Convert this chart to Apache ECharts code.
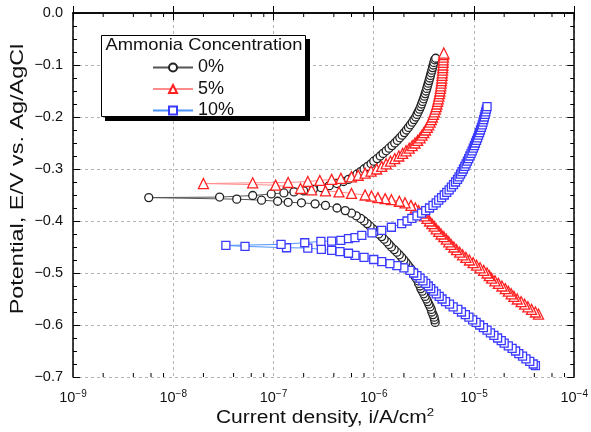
<!DOCTYPE html>
<html>
<head>
<meta charset="utf-8">
<script src="https://cdn.jsdelivr.net/npm/echarts@6/dist/echarts.min.js"></script>
<style>
  html, body { margin: 0; padding: 0; background: #fff; }
  #main { width: 591px; height: 432px; }
</style>
</head>
<body>
<div id="main"></div>
<script>
// series names (legend)
const seriesNames = ['0%', '5%', '10%']

// [current density (A/cm2), potential (V)], scan order
// 0% : cathodic end -> Ecorr
const cathodic0 = [
  [4.1e-6, -0.595], [4.05e-6, -0.590], [4.0e-6, -0.585], [3.9e-6, -0.580], [3.8e-6, -0.575],
  [3.75e-6, -0.570], [3.65e-6, -0.565], [3.55e-6, -0.560], [3.45e-6, -0.555], [3.35e-6, -0.550],
  [3.25e-6, -0.545], [3.15e-6, -0.540], [3.05e-6, -0.535], [2.95e-6, -0.530], [2.9e-6, -0.525],
  [2.8e-6, -0.520], [2.75e-6, -0.515], [2.65e-6, -0.510], [2.55e-6, -0.505], [2.5e-6, -0.500],
  [2.4e-6, -0.495], [2.3e-6, -0.490], [2.2e-6, -0.485], [2.1e-6, -0.480], [2.0e-6, -0.475],
  [1.9e-6, -0.470], [1.8e-6, -0.465], [1.7e-6, -0.460], [1.6e-6, -0.455], [1.5e-6, -0.450],
  [1.42e-6, -0.445], [1.35e-6, -0.440], [1.27e-6, -0.435], [1.2e-6, -0.430], [1.12e-6, -0.425],
  [1.05e-6, -0.420], [9.8e-7, -0.415], [9.2e-7, -0.410], [8.6e-7, -0.405], [8.0e-7, -0.400],
  [7.4e-7, -0.395], [6.7e-7, -0.390], [6.0e-7, -0.385], [5.2e-7, -0.380], [4.3e-7, -0.375],
  [3.3e-7, -0.370], [2.6e-7, -0.367], [1.9e-7, -0.365], [1.4e-7, -0.364], [1.1e-7, -0.362],
  [7.6e-8, -0.360], [4.3e-8, -0.358], [5.7e-9, -0.355]
]
// 0% : Ecorr -> anodic end
const anodic0 = [
  [2.9e-8, -0.354], [6.2e-8, -0.351], [9.5e-8, -0.348], [1.27e-7, -0.346], [1.6e-7, -0.344],
  [2.0e-7, -0.342], [2.5e-7, -0.339], [3.0e-7, -0.336], [3.6e-7, -0.332], [4.3e-7, -0.328],
  [5.0e-7, -0.324], [5.6e-7, -0.320], [6.2e-7, -0.315], [6.8e-7, -0.310], [7.4e-7, -0.305],
  [8.0e-7, -0.300], [8.7e-7, -0.295], [9.4e-7, -0.290], [1.0e-6, -0.285], [1.08e-6, -0.280],
  [1.16e-6, -0.275], [1.24e-6, -0.270], [1.33e-6, -0.265], [1.42e-6, -0.260], [1.52e-6, -0.255],
  [1.62e-6, -0.250], [1.72e-6, -0.245], [1.82e-6, -0.240], [1.92e-6, -0.235], [2.02e-6, -0.230],
  [2.12e-6, -0.225], [2.22e-6, -0.220], [2.32e-6, -0.215], [2.42e-6, -0.210], [2.52e-6, -0.205],
  [2.62e-6, -0.200], [2.7e-6, -0.195], [2.78e-6, -0.190], [2.86e-6, -0.185], [2.94e-6, -0.180],
  [3.0e-6, -0.175], [3.07e-6, -0.170], [3.14e-6, -0.165], [3.2e-6, -0.160], [3.26e-6, -0.155],
  [3.32e-6, -0.150], [3.38e-6, -0.145], [3.44e-6, -0.140], [3.5e-6, -0.135], [3.56e-6, -0.130],
  [3.62e-6, -0.125], [3.68e-6, -0.120], [3.74e-6, -0.115], [3.8e-6, -0.110], [3.86e-6, -0.105],
  [3.92e-6, -0.100], [3.98e-6, -0.095], [4.05e-6, -0.090], [4.15e-6, -0.087]
]
// 5%
const cathodic5 = [
  [4.4e-5, -0.579], [4.1e-5, -0.575], [3.75e-5, -0.570], [3.45e-5, -0.565], [3.2e-5, -0.560],
  [2.95e-5, -0.555], [2.7e-5, -0.550], [2.5e-5, -0.545], [2.35e-5, -0.540], [2.2e-5, -0.535],
  [2.05e-5, -0.530], [1.9e-5, -0.525], [1.75e-5, -0.520], [1.62e-5, -0.515], [1.5e-5, -0.510],
  [1.42e-5, -0.505], [1.35e-5, -0.500], [1.25e-5, -0.495], [1.15e-5, -0.490], [1.06e-5, -0.485],
  [9.8e-6, -0.480], [9.0e-6, -0.475], [8.3e-6, -0.470], [7.7e-6, -0.465], [7.2e-6, -0.460],
  [6.7e-6, -0.455], [6.3e-6, -0.450], [5.9e-6, -0.445], [5.6e-6, -0.440], [5.3e-6, -0.435],
  [5.0e-6, -0.430], [4.7e-6, -0.425], [4.45e-6, -0.420], [4.2e-6, -0.415], [4.0e-6, -0.410],
  [3.8e-6, -0.405], [3.6e-6, -0.400], [3.4e-6, -0.395], [3.2e-6, -0.390], [3.0e-6, -0.385],
  [2.8e-6, -0.380], [2.6e-6, -0.375], [2.35e-6, -0.370], [2.05e-6, -0.365], [1.8e-6, -0.362],
  [1.5e-6, -0.359], [1.3e-6, -0.357], [1.1e-6, -0.355], [9.5e-7, -0.352], [8.2e-7, -0.350],
  [6.0e-7, -0.347], [4.5e-7, -0.344], [3.3e-7, -0.342], [2.4e-7, -0.340], [1.86e-7, -0.3375],
  [1.05e-7, -0.331], [2.0e-8, -0.328]
]
const anodic5 = [
  [6.2e-8, -0.3266], [1.4e-7, -0.326], [2.2e-7, -0.324], [2.9e-7, -0.322], [3.8e-7, -0.320],
  [4.7e-7, -0.318], [6.0e-7, -0.315], [7.0e-7, -0.312], [8.2e-7, -0.308], [9.4e-7, -0.304],
  [1.07e-6, -0.300], [1.2e-6, -0.295], [1.33e-6, -0.290], [1.47e-6, -0.285], [1.62e-6, -0.280],
  [1.78e-6, -0.275], [1.94e-6, -0.270], [2.1e-6, -0.265], [2.26e-6, -0.260], [2.42e-6, -0.255],
  [2.58e-6, -0.250], [2.74e-6, -0.245], [2.9e-6, -0.240], [3.03e-6, -0.235], [3.16e-6, -0.230],
  [3.29e-6, -0.225], [3.42e-6, -0.220], [3.54e-6, -0.215], [3.65e-6, -0.210], [3.75e-6, -0.205],
  [3.85e-6, -0.200], [3.94e-6, -0.195], [4.03e-6, -0.190], [4.12e-6, -0.185], [4.2e-6, -0.180],
  [4.27e-6, -0.175], [4.34e-6, -0.170], [4.4e-6, -0.165], [4.46e-6, -0.160], [4.52e-6, -0.155],
  [4.57e-6, -0.150], [4.62e-6, -0.145], [4.66e-6, -0.140], [4.7e-6, -0.135], [4.74e-6, -0.130],
  [4.77e-6, -0.125], [4.8e-6, -0.120], [4.83e-6, -0.115], [4.86e-6, -0.110], [4.88e-6, -0.105],
  [4.9e-6, -0.100], [4.92e-6, -0.095], [4.94e-6, -0.090], [4.96e-6, -0.085], [4.98e-6, -0.080],
  [5.0e-6, -0.077]
]
// 10%
const cathodic10 = [
  [4.1e-5, -0.678], [3.9e-5, -0.675], [3.6e-5, -0.670], [3.3e-5, -0.665], [3.05e-5, -0.660],
  [2.8e-5, -0.655], [2.6e-5, -0.650], [2.4e-5, -0.645], [2.2e-5, -0.640], [2.0e-5, -0.635],
  [1.87e-5, -0.630], [1.72e-5, -0.625], [1.58e-5, -0.620], [1.46e-5, -0.615], [1.35e-5, -0.610],
  [1.24e-5, -0.605], [1.14e-5, -0.600], [1.05e-5, -0.595], [9.7e-6, -0.590], [8.9e-6, -0.585],
  [8.2e-6, -0.580], [7.5e-6, -0.575], [6.9e-6, -0.570], [6.2e-6, -0.565], [5.7e-6, -0.560],
  [5.2e-6, -0.555], [4.8e-6, -0.550], [4.5e-6, -0.545], [4.2e-6, -0.540], [3.95e-6, -0.535],
  [3.7e-6, -0.530], [3.5e-6, -0.525], [3.3e-6, -0.520], [3.1e-6, -0.515], [2.9e-6, -0.510],
  [2.7e-6, -0.505], [2.5e-6, -0.500], [2.3e-6, -0.495], [2.0e-6, -0.490], [1.7e-6, -0.486],
  [1.45e-6, -0.482], [1.2e-6, -0.478], [1.0e-6, -0.474], [8.0e-7, -0.470], [6.5e-7, -0.466],
  [5.6e-7, -0.462], [4.6e-7, -0.459], [3.8e-7, -0.4566], [3.0e-7, -0.4546], [2.2e-7, -0.452],
  [1.35e-7, -0.4514], [5.2e-8, -0.4488], [3.35e-8, -0.447]
]
const anodic10 = [
  [1.19e-7, -0.445], [2.05e-7, -0.4418], [2.97e-7, -0.439], [3.8e-7, -0.4386], [4.7e-7, -0.4373],
  [5.6e-7, -0.434], [6.5e-7, -0.432], [7.6e-7, -0.4276], [9.6e-7, -0.423], [1.2e-6, -0.418],
  [1.5e-6, -0.412], [1.9e-6, -0.405], [2.15e-6, -0.400], [2.4e-6, -0.395], [2.7e-6, -0.390],
  [3.0e-6, -0.385], [3.3e-6, -0.380], [3.6e-6, -0.375], [3.9e-6, -0.370], [4.2e-6, -0.365],
  [4.45e-6, -0.360], [4.75e-6, -0.355], [5.05e-6, -0.350], [5.35e-6, -0.345], [5.65e-6, -0.340],
  [5.95e-6, -0.335], [6.25e-6, -0.330], [6.55e-6, -0.325], [6.85e-6, -0.320], [7.1e-6, -0.315],
  [7.35e-6, -0.310], [7.6e-6, -0.305], [7.85e-6, -0.300], [8.1e-6, -0.295], [8.35e-6, -0.290],
  [8.6e-6, -0.285], [8.85e-6, -0.280], [9.1e-6, -0.275], [9.35e-6, -0.270], [9.6e-6, -0.265],
  [9.85e-6, -0.260], [1.01e-5, -0.255], [1.035e-5, -0.250], [1.06e-5, -0.245], [1.085e-5, -0.240],
  [1.11e-5, -0.235], [1.135e-5, -0.230], [1.16e-5, -0.225], [1.185e-5, -0.220], [1.21e-5, -0.215],
  [1.23e-5, -0.210], [1.25e-5, -0.205], [1.27e-5, -0.200], [1.29e-5, -0.195], [1.31e-5, -0.190],
  [1.33e-5, -0.185], [1.35e-5, -0.180]
]

// minor log ticks at 2,4,6,8 of each decade
const minorX = []
for (let d = -9; d < -4; d++) {
  [2, 4, 6, 8].forEach(m => minorX.push([m * Math.pow(10, d), -0.7]))
}

const FONT = '"Liberation Sans", Arial, sans-serif'
const minus = s => String(s).replace('-', '\u2212')

const chart = echarts.init(document.getElementById('main'))

const logAxis = {
  type: 'log',
  logBase: 10,
  min: 1e-9,
  max: 1e-4,
  splitNumber: 5
}
const valAxis = {
  type: 'value',
  min: -0.7,
  max: 0,
  interval: 0.1
}

function curve (name, data, symbol, size, stroke, line) {
  return {
    name: name,
    type: 'line',
    data: data,
    symbol: symbol,
    symbolSize: size,
    showAllSymbol: true,
    itemStyle: { color: '#fff', borderColor: stroke, borderWidth: 1.3 },
    lineStyle: { color: line, width: 1 },
    emphasis: { disabled: true }
  }
}

const option = {
  animation: false,
  textStyle: { fontFamily: FONT },
  grid: { left: 73, right: 14, top: 13, bottom: 55 },
  xAxis: [
    Object.assign({}, logAxis, {
      position: 'bottom',
      axisLine: { lineStyle: { color: '#000', width: 1.5 } },
      axisTick: { inside: true, length: 7, lineStyle: { color: '#000' } },
      splitLine: { show: true, lineStyle: { color: '#b5b5b5', type: [3, 3], width: 1 } },
      axisLabel: {
        margin: 12,
        color: '#111',
        showMinLabel: true,
        showMaxLabel: true,
        formatter: v => '{b|10}{s|' + minus(Math.round(Math.log10(v))) + '}',
        rich: {
          b: { fontSize: 14.5, lineHeight: 18, fontFamily: FONT, color: '#111' },
          s: { fontSize: 10, lineHeight: 10, verticalAlign: 'top', fontFamily: FONT, color: '#111' }
        }
      }
    }),
    Object.assign({}, logAxis, {
      position: 'top',
      axisLine: { lineStyle: { color: '#000', width: 1.5 } },
      axisTick: { inside: true, length: 7, lineStyle: { color: '#000' } },
      axisLabel: { show: false },
      splitLine: { show: false }
    })
  ],
  yAxis: [
    Object.assign({}, valAxis, {
      position: 'left',
      axisLine: { show: true, lineStyle: { color: '#000', width: 1.5 } },
      axisTick: { show: true, inside: true, length: 7, lineStyle: { color: '#000' } },
      minorTick: { show: true, splitNumber: 4, length: 4, lineStyle: { color: '#000' } },
      splitLine: { show: true, lineStyle: { color: '#b5b5b5', type: [3, 3], width: 1 } },
      axisLabel: {
        margin: 10,
        fontSize: 14.5,
        color: '#111',
        formatter: v => minus(v.toFixed(1)).replace('\u22120.0', '0.0')
      }
    }),
    Object.assign({}, valAxis, {
      position: 'right',
      axisLine: { show: true, lineStyle: { color: '#000', width: 1.5 } },
      axisTick: { show: true, inside: true, length: 7, lineStyle: { color: '#000' } },
      minorTick: { show: true, splitNumber: 4, length: 4, lineStyle: { color: '#000' } },
      splitLine: { show: false },
      axisLabel: { show: false }
    })
  ],
  legend: {
    data: seriesNames,
    orient: 'vertical',
    left: 152,
    top: 58.5,
    padding: 0,
    itemWidth: 40,
    itemHeight: 10,
    itemGap: 3.5,
    z: 12,
    selectedMode: false,
    textStyle: { fontSize: 18, lineHeight: 17, color: '#111', fontFamily: FONT }
  },
  graphic: [
    // legend frame with its hard drop shadow
    {
      type: 'rect',
      z: 10,
      shape: { x: 105, y: 39, width: 205, height: 82 },
      style: { fill: '#000' }
    },
    {
      type: 'rect',
      z: 11,
      shape: { x: 101.5, y: 35.5, width: 204, height: 81 },
      style: { fill: '#fff', stroke: '#000', lineWidth: 1 }
    },
    {
      type: 'text',
      z: 12,
      x: 204,
      y: 45,
      scaleX: 1.08,
      style: {
        text: 'Ammonia Concentration',
        fontSize: 17,
        fontFamily: FONT,
        fill: '#111',
        align: 'center',
        verticalAlign: 'middle'
      }
    },
    // axis titles
    {
      type: 'text',
      x: 18,
      y: 179,
      rotation: Math.PI / 2,
      scaleX: 1.3,
      style: {
        text: 'Potential, E/V vs. Ag/AgCl',
        fontSize: 18,
        fontFamily: FONT,
        fill: '#111',
        align: 'center',
        verticalAlign: 'middle'
      }
    },
    {
      type: 'text',
      x: 325,
      y: 418,
      scaleX: 1.2,
      style: {
        text: '{b|Current density, i/A/cm}{s|2}',
        fontFamily: FONT,
        align: 'center',
        verticalAlign: 'middle',
        rich: {
          b: { fontSize: 17.5, lineHeight: 22, fontFamily: FONT, fill: '#111' },
          s: { fontSize: 11, lineHeight: 11, verticalAlign: 'top', fontFamily: FONT, fill: '#111' }
        }
      }
    }
  ],
  series: [
    curve('0%', cathodic0.concat(anodic0), 'circle', 8, '#222', '#555'),
    curve('5%', cathodic5.concat(anodic5), 'triangle', 10, '#ff2020', '#ff8c8c'),
    curve('10%', cathodic10.concat(anodic10), 'rect', 8, '#3a3aff', '#4d94ff'),
    {
      type: 'custom',
      silent: true,
      data: minorX,
      z: 5,
      renderItem: function (params, api) {
        const cs = params.coordSys
        const x = api.coord([api.value(0), api.value(1)])[0]
        const yb = cs.y + cs.height
        return {
          type: 'group',
          children: [
            { type: 'line', shape: { x1: x, y1: yb, x2: x, y2: yb - 4 }, style: { stroke: '#000', lineWidth: 1 } },
            { type: 'line', shape: { x1: x, y1: cs.y, x2: x, y2: cs.y + 4 }, style: { stroke: '#000', lineWidth: 1 } }
          ]
        }
      }
    }
  ]
}

chart.setOption(option)
</script>
</body>
</html>
